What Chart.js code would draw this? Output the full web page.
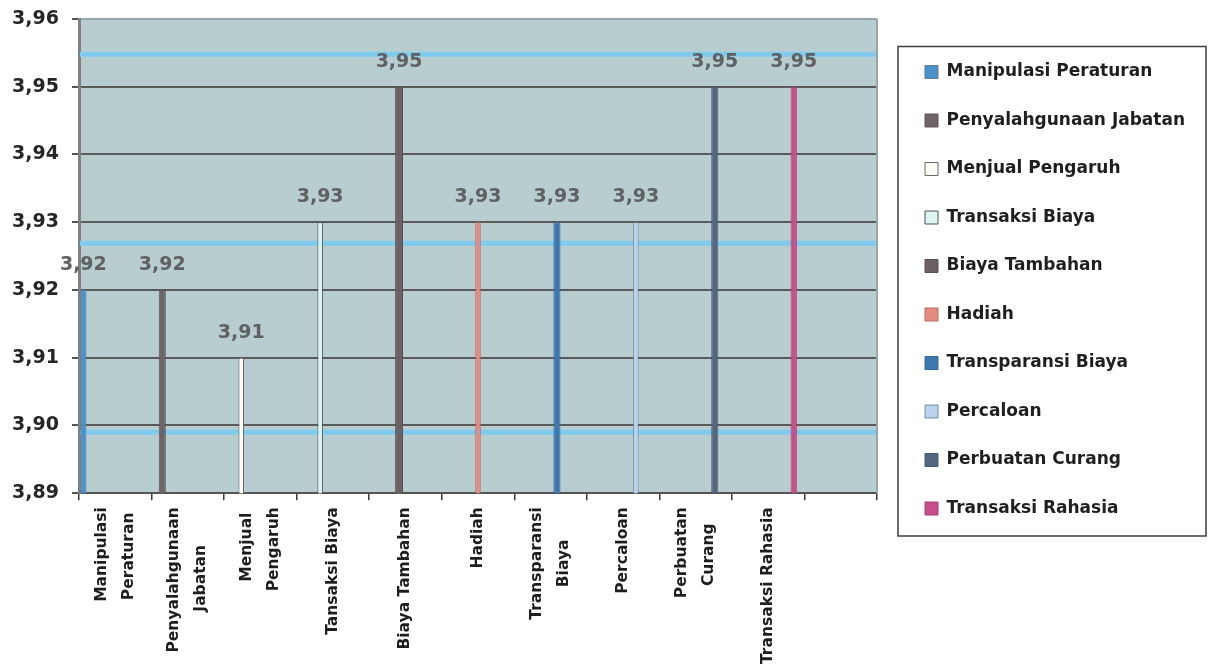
<!DOCTYPE html>
<html>
<head>
<meta charset="utf-8">
<script src="https://cdn.jsdelivr.net/npm/chart.js@4.4.1/dist/chart.umd.min.js"></script>
<style>
html,body{margin:0;padding:0;background:#ffffff;}
#wrap{position:relative;width:1208px;height:665px;}
</style>
</head>
<body>
<div id="wrap"><canvas id="c" width="1208" height="665"></canvas></div>
<script>
// ---- data ----
const categories = ['Manipulasi Peraturan','Penyalahgunaan Jabatan','Menjual Pengaruh','Transaksi Biaya','Biaya Tambahan','Hadiah','Transparansi Biaya','Percaloan','Perbuatan Curang','Transaksi Rahasia'];
const values = [3.92, 3.92, 3.91, 3.93, 3.95, 3.93, 3.93, 3.93, 3.95, 3.95];
const axisLabels = [['Manipulasi','Peraturan'],['Penyalahgunaan','Jabatan'],['Menjual','Pengaruh'],'Tansaksi Biaya','Biaya Tambahan','Hadiah',['Transparansi','Biaya'],'Percaloan',['Perbuatan','Curang'],'Transaksi Rahasia',''];
const yRange = [3.89, 3.96];
const yStep = 0.01;
const bandLevels = [3.9548, 3.9269, 3.8990];

// ---- styles ----
const fillColors = ['#4b90c8','#6f6468','#fdfdf6','#def4f2','#6a6066','#e58b80','#3d78ae','#b8d4ee','#55677f','#c8508a'];
const borderColors = ['#5d7f97','#5e5458','#6a6a6a','#4d5556','#5a5056','#b96a64','#35689a','#7d8a96','#4a5a70','#a84070'];
const barPct = [0.08, 0.09, 0.07, 0.07, 0.1, 0.07, 0.09, 0.07, 0.09, 0.08];
const FONT = 'DejaVu Sans';
const XFONT = 15.5;

function fmt(v){ return v.toFixed(2).replace('.', ','); }

function centerLines(lines){
  const m = document.createElement('canvas').getContext('2d');
  m.font = 'bold ' + XFONT + 'px "' + FONT + '"';
  const w = lines.map(s => m.measureText(s).width);
  const maxW = Math.max.apply(null, w);
  const sp = m.measureText(' ').width;
  return lines.map((s,k) => s + ' '.repeat(Math.round((maxW - w[k]) / 2 / sp)));
}
const tickLabels = axisLabels.map(l => Array.isArray(l) ? centerLines(l) : ['', l]);

const datasets = categories.map((c, i) => ({
  label: c,
  data: [values[i]],
  backgroundColor: fillColors[i],
  borderColor: borderColors[i],
  borderWidth: 1,
  barPercentage: barPct[i],
  xAxisID: 'x', yAxisID: 'y'
}));
datasets.push({ label: '', data: [null], xAxisID: 'x', yAxisID: 'y' });

const plotFrame = {
  id: 'plotFrame',
  beforeDraw(chart){
    const {ctx, chartArea: a} = chart;
    // place the legend block 16.5px right of the plot, reaching the right edge
    const lg = chart.legend;
    if (lg) {
      lg.left = a.right + 16.5;
      lg.right = chart.width;
      lg.width = lg.right - lg.left;
    }
    ctx.save();
    ctx.fillStyle = '#b7cdd0';
    ctx.fillRect(a.left, a.top, a.right - a.left, a.bottom - a.top);
    ctx.restore();
  },
  beforeDatasetsDraw(chart){
    const {ctx, chartArea: a, scales} = chart;
    ctx.save();
    ctx.strokeStyle = '#7fcbee';
    ctx.lineWidth = 5;
    bandLevels.forEach(v => {
      const y = scales.y.getPixelForValue(v);
      ctx.beginPath(); ctx.moveTo(a.left + 1, y); ctx.lineTo(a.right, y); ctx.stroke();
    });
    ctx.strokeStyle = '#95a7aa';
    ctx.lineWidth = 2;
    ctx.beginPath(); ctx.moveTo(a.right, a.top); ctx.lineTo(a.right, a.bottom); ctx.stroke();
    ctx.restore();
  },
  afterDatasetsDraw(chart){
    const ctx = chart.ctx;
    ctx.save();
    ctx.font = 'bold 19px "' + FONT + '"';
    ctx.fillStyle = '#5f6162';
    ctx.textAlign = 'center';
    ctx.textBaseline = 'middle';
    chart.data.datasets.forEach((ds, i) => {
      const v = ds.data[0];
      if (v == null) return;
      const el = chart.getDatasetMeta(i).data[0];
      ctx.fillText(fmt(v), el.x, el.y - 25);
    });
    ctx.restore();
  },
  afterDraw(chart){
    const lg = chart.legend;
    if (!lg || !lg.legendHitBoxes || !lg.legendHitBoxes.length) return;
    const hb = lg.legendHitBoxes;
    const first = hb[0], last = hb[hb.length - 1];
    const ctx = chart.ctx;
    ctx.save();
    ctx.strokeStyle = '#3c3c3c';
    ctx.lineWidth = 1.5;
    const x0 = lg.left + 4.5, y0 = first.top - 17;
    const x1 = chart.width - 2, y1 = last.top + last.height + 19;
    ctx.strokeRect(x0, y0, x1 - x0, y1 - y0);
    ctx.restore();
  }
};

new Chart(document.getElementById('c'), {
  type: 'bar',
  data: { labels: [''], datasets: datasets },
  options: {
    responsive: false,
    animation: false,
    layout: { padding: { top: 19, left: 12, right: 81, bottom: -6 } },
    datasets: { bar: { categoryPercentage: 1.088, barPercentage: 0.08 } },
    plugins: {
      tooltip: { enabled: false },
      legend: {
        position: 'right',
        align: 'start',
        maxWidth: 250,
        title: { display: true, text: '', font: { size: 13, lineHeight: 1 }, padding: 0 },
        labels: {
          boxWidth: 13, boxHeight: 13, padding: 31.5,
          color: '#1f1f1f',
          font: { family: FONT, weight: 'bold', size: 17 },
          filter: item => item.text !== ''
        }
      }
    },
    scales: {
      x: { type: 'category', display: false, offset: true },
      x2: {
        type: 'category', position: 'bottom', labels: tickLabels, offset: true,
        grid: { offset: true, drawOnChartArea: false, drawTicks: true, tickLength: 7, color: '#3a3a3a', lineWidth: 1.5 },
        border: { display: true, color: '#555555', width: 2 },
        ticks: {
          autoSkip: false, maxRotation: 90, minRotation: 90, padding: 7, labelOffset: -13.5,
          color: '#1e1e1e',
          font: ctx => ({ family: FONT, weight: 'bold', size: XFONT, lineHeight: (ctx && Array.isArray(axisLabels[ctx.index])) ? 27 / XFONT : 13.5 / XFONT })
        }
      },
      y: {
        min: yRange[0], max: yRange[1],
        afterFit: s => { s.width = 67; },
        ticks: { stepSize: yStep, callback: v => fmt(v), color: '#262626', padding: 0, crossAlign: 'far', font: { family: FONT, weight: 'bold', size: 19 } },
        grid: { color: c => (c.tick && c.tick.value >= yRange[1] - 1e-9) ? '#95a7aa' : '#5a5a5a', lineWidth: 2, tickLength: 7, tickColor: '#555555' },
        border: { color: '#808080', width: 3 }
      }
    }
  },
  plugins: [plotFrame]
});
</script>
</body>
</html>
